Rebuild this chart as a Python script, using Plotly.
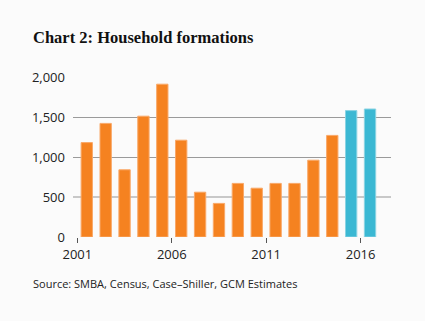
import plotly.graph_objects as go

years_actual = [2001, 2002, 2003, 2004, 2005, 2006, 2007, 2008, 2009, 2010, 2011, 2012, 2013, 2014]
values_actual = [1180, 1420, 840, 1510, 1910, 1210, 560, 420, 670, 610, 670, 670, 960, 1270]
years_estimate = [2015, 2016]
values_estimate = [1580, 1600]

x_tick_years = [2001, 2006, 2011, 2016]
y_ticks = [0, 500, 1000, 1500, 2000]
y_tick_labels = ["0", "500", "1,000", "1,500", "2,000"]
dark_grid = [1000, 1500, 2000]
light_grid = [0, 500]

title_text = "Chart 2: Household formations"
source_text = "Source: SMBA, Census, Case\u2013Shiller, GCM Estimates"

ORANGE = "#F58220"
BLUE = "#3BB8D3"
BG = "#FBFBFB"

fig = go.Figure()
# invisible helper traces so the grid overlay axes get drawn
for ax in ("y2", "y3"):
    fig.add_trace(go.Scatter(x=[years_actual[0]], y=[0], yaxis=ax, mode="markers",
                             marker=dict(opacity=0), hoverinfo="skip", showlegend=False))
fig.add_trace(go.Bar(x=years_actual, y=values_actual, width=0.6,
                     marker=dict(color=ORANGE, line=dict(color="#F9A868", width=1)),
                     hoverinfo="x+y"))
fig.add_trace(go.Bar(x=years_estimate, y=values_estimate, width=0.6,
                     marker=dict(color=BLUE, line=dict(color="#8AD3E3", width=1)),
                     hoverinfo="x+y"))

fig.update_layout(
    width=425, height=321,
    margin=dict(l=73, r=34, t=77, b=84),
    paper_bgcolor=BG, plot_bgcolor=BG,
    showlegend=False,
    font=dict(family="Open Sans", size=13, color="#222"),
    title=dict(text="<b>" + title_text + "</b>", xref="container", x=33/425, xanchor="left",
               yref="container", y=1 - 37/321, yanchor="middle",
               font=dict(family="Liberation Serif", size=16.5, color="#111")),
    xaxis=dict(range=[2000.27, 2017.11],
               tickvals=[y - 0.5 for y in x_tick_years],
               ticktext=[str(y) for y in x_tick_years],
               ticks="outside", ticklen=5, tickcolor="#555", tickwidth=1,
               showgrid=False, zeroline=False, showline=False,
               tickfont=dict(size=13, color="#222")),
    yaxis=dict(range=[0, 2000], tickvals=y_ticks, ticktext=y_tick_labels,
               showgrid=False, zeroline=False, showline=False, ticks="", ticklabelstandoff=7,
               tickfont=dict(size=13, color="#222")),
    yaxis2=dict(range=[0, 2000], overlaying="y", tickvals=dark_grid,
                showticklabels=False, showgrid=True, gridcolor="#9A9A9A", gridwidth=1,
                zeroline=False, showline=False, ticks=""),
    yaxis3=dict(range=[0, 2000], overlaying="y", tickvals=light_grid,
                showticklabels=False, showgrid=True, gridcolor="#C8C8C8", gridwidth=2,
                zeroline=False, showline=False, ticks=""),
    annotations=[dict(text=source_text, xref="paper", yref="paper",
                      x=(31 - 73) / 318.5, xanchor="left", y=(237 - 283) / 160, yanchor="middle",
                      showarrow=False, font=dict(family="Open Sans", size=11, color="#222"))],
)

fig.write_html("out.html")
